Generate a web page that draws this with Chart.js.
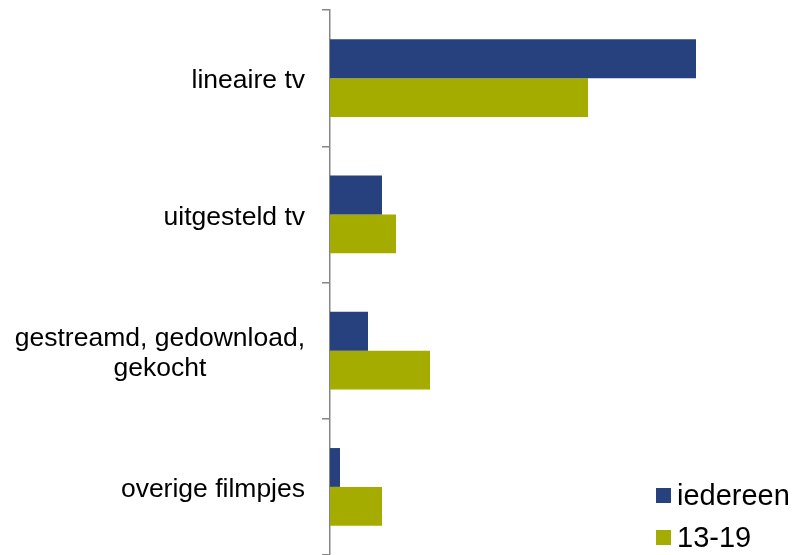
<!DOCTYPE html>
<html>
<head>
<meta charset="utf-8">
<script src="https://cdn.jsdelivr.net/npm/chart.js@4.4.0/dist/chart.umd.min.js"></script>
<style>
  body { margin: 0; background: #fff; }
  #wrap { position: relative; width: 794px; height: 555px; }
  #legend { position: absolute; left: 656px; top: 474px; font-family: 'Liberation Sans', Arial, sans-serif; font-size: 29px; color: #000; }
  .item { display: flex; align-items: center; height: 42px; }
  .box { width: 15px; height: 15px; margin-right: 6px; }
</style>
</head>
<body>
<div id="wrap">
  <canvas id="myChart" width="794" height="555"></canvas>
  <div id="legend"></div>
</div>
<script>
const categories = [
  ['lineaire tv'],
  ['uitgesteld tv'],
  ['gestreamd, gedownload,', 'gekocht'],
  ['overige filmpjes']
];
const iedereen = [183, 26, 19, 5];
const tieners = [129, 33, 50, 26];

const colorIedereen = '#26417E';
const colorTieners = '#A5AC00';

// draws the category names: block right-aligned to the axis, lines centred within it
const labelPlugin = {
  id: 'catLabels',
  afterDraw(chart) {
    const scale = chart.scales.y;
    const ctx = chart.ctx;
    const lineH = 30;
    ctx.save();
    ctx.font = '26.5px "Liberation Sans", Arial, sans-serif';
    ctx.fillStyle = '#000';
    ctx.textAlign = 'center';
    ctx.textBaseline = 'middle';
    categories.forEach((lines, i) => {
      const yc = scale.getPixelForTick(i) + 3;
      const w = Math.max(...lines.map(l => ctx.measureText(l).width));
      const xc = scale.right - 25 - w / 2;
      const y0 = yc - (lines.length - 1) * lineH / 2;
      lines.forEach((l, j) => ctx.fillText(l, xc, y0 + j * lineH));
    });
    ctx.restore();
  }
};

const config = {
  type: 'bar',
  data: {
    labels: categories.map(c => c.join(' ')),
    datasets: [
      { label: 'iedereen', data: iedereen, backgroundColor: colorIedereen },
      { label: '13-19', data: tieners, backgroundColor: colorTieners }
    ]
  },
  options: {
    indexAxis: 'y',
    responsive: false,
    animation: false,
    layout: { padding: { top: 10, bottom: 0, left: 0, right: 0 } },
    datasets: { bar: { categoryPercentage: 0.57, barPercentage: 1.0 } },
    plugins: { legend: { display: false }, tooltip: { enabled: false } },
    scales: {
      x: { display: false, min: 0, max: 232 },
      y: {
        afterFit: s => { s.width = 330; },
        ticks: { display: false },
        grid: { drawOnChartArea: false, offset: true, tickLength: 8, color: '#868686', lineWidth: 1.5 },
        border: { color: '#868686', width: 1.5 }
      }
    }
  },
  plugins: [labelPlugin]
};

const myChart = new Chart(document.getElementById('myChart').getContext('2d'), config);

const legend = document.getElementById('legend');
myChart.data.datasets.forEach(ds => {
  const item = document.createElement('div');
  item.className = 'item';
  item.innerHTML = `<span class="box" style="background:${ds.backgroundColor}"></span><span>${ds.label}</span>`;
  legend.appendChild(item);
});
</script>
</body>
</html>
